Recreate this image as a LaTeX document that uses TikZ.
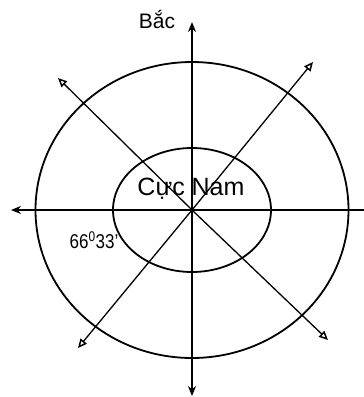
\documentclass[tikz,border=0pt]{standalone}
\usepackage{fontspec}
\setmainfont{Liberation Sans}
\usepackage{graphicx}
\usetikzlibrary{arrows.meta,positioning,shapes.geometric}

\begin{document}
\begin{tikzpicture}[
  x=1pt, y=-1pt,
  ring/.style={draw, ellipse, line width=1.8pt, inner sep=0pt},
  axis/.style={line width=1.3pt, -{Stealth[length=10pt,width=8pt]}},
  diag/.style={line width=1.3pt, -{Triangle[open,length=9pt,width=8pt,line width=1.5pt]}},
  label/.style={inner sep=0pt}
]
\useasboundingbox (0,0) rectangle (364,397);

\coordinate (o) at (192,210);
\node[ring, minimum width=313pt, minimum height=296pt] (outer) at (o) {};
\node[ring, minimum width=158pt, minimum height=124pt] (inner) at (o) {};

% axis ends
\coordinate (north) at (192,22);
\coordinate (south) at (192,396);
\coordinate (west) at (11,210);
\coordinate (east) at (364,210);
\coordinate (ne) at (313,62);
\coordinate (sw) at (78,348);
\coordinate (nw) at (58,78);
\coordinate (se) at (328,340);

\draw[axis] (o) -- (north);
\draw[axis] (o) -- (south);
\draw[axis] (east) -- (west);
\draw[diag] (o) -- (ne);
\draw[diag] (o) -- (sw);
\draw[diag] (o) -- (nw);
\draw[diag] (o) -- (se);

\node[label, font=\fontsize{21}{24}\selectfont] (bac) at (157,19) {Bắc};
\node[label, font=\fontsize{25}{28}\selectfont] (pole) at (191,189) {Cực Nam};
\node[label, font=\fontsize{20}{24}\selectfont] (lat) at (94,240) {\scalebox{0.85}[1]{66\textsuperscript{0}33'}};
\end{tikzpicture}
\end{document}
